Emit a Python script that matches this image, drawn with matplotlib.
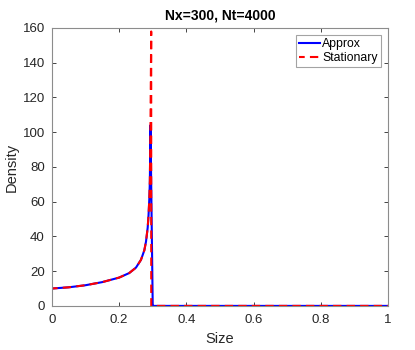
import matplotlib
matplotlib.use("Agg")
import matplotlib.pyplot as plt
import numpy as np

plt.rcParams['font.family'] = ['Liberation Sans', 'DejaVu Sans']

# Data
size_approx = [0.0, 0.05, 0.10, 0.15, 0.20, 0.23, 0.25, 0.265, 0.275, 0.28, 0.285,
               0.2875, 0.29, 0.2915, 0.2933, 0.30, 0.3033, 1.0]
dens_approx = [10.0, 10.7, 11.9, 13.7, 16.3, 18.9, 22.0, 26.5, 32.0, 37.0, 45.0,
               52.0, 62.0, 72.0, 104.0, 0.0, 0.0, 0.0]

size_stat = [0.0, 0.05, 0.10, 0.15, 0.20, 0.23, 0.25, 0.265, 0.275, 0.28, 0.285,
             0.2875, 0.29, 0.2915, 0.2933, 0.2955, 0.2956, 1.0]
dens_stat = [10.0, 10.7, 11.9, 13.7, 16.3, 18.9, 22.0, 26.5, 32.0, 37.0, 45.0,
             52.0, 62.0, 72.0, 104.0, 158.0, 0.0, 0.0]

title = "Nx=300, Nt=4000"
xlabel = "Size"
ylabel = "Density"
xticks = [0, 0.2, 0.4, 0.6, 0.8, 1]
xticklabels = ["0", "0.2", "0.4", "0.6", "0.8", "1"]
yticks = [0, 20, 40, 60, 80, 100, 120, 140, 160]

fig = plt.figure(figsize=(4.15, 3.5), dpi=100)
ax = fig.add_axes([0.125, 0.126, 0.81, 0.794])
ax.set_xlim(0, 1)
ax.set_ylim(0, 160)

lw = 1.5
dash = (4, 2.5)
# align the dash pattern so the up and down strokes of the spike coincide
pts = ax.transData.transform(np.column_stack([size_stat, dens_stat]))
seg = np.hypot(*np.diff(pts, axis=0).T)
peak = int(np.argmax(dens_stat))
L = seg[:peak].sum() * 72.0 / fig.dpi
on, per = dash[0] * lw, (dash[0] + dash[1]) * lw
offset = ((on / 2.0 - L) % per) / lw

ax.plot(size_approx, dens_approx, color='#0000ff', lw=lw, label='Approx')
ax.plot(size_stat, dens_stat, color='#ff0000', lw=lw, ls=(offset, dash), label='Stationary')

ax.set_xticks(xticks)
ax.set_xticklabels(xticklabels)
ax.set_yticks(yticks)

tc = '#262626'
ax.tick_params(direction='in', top=True, right=True, length=3, width=0.6,
               colors=tc, labelsize=9.5, labelcolor=tc)
ax.tick_params(axis='x', pad=6)
ax.tick_params(axis='y', pad=5)
for s in ax.spines.values():
    s.set_color('#8c8c8c')
    s.set_linewidth(0.8)

ax.set_xlabel(xlabel, fontsize=10.5, color=tc, labelpad=4)
ax.set_ylabel(ylabel, fontsize=10.5, color=tc, labelpad=3)
ax.set_title(title, fontsize=10, fontweight='bold', color='black', pad=6)

leg = ax.legend(loc='upper right', fontsize=8.8, frameon=True, fancybox=False,
                handlelength=1.7, handletextpad=0.2, borderpad=0.25,
                labelspacing=0.15, borderaxespad=0.6)
leg.get_frame().set_edgecolor('#8c8c8c')
leg.get_frame().set_linewidth(0.8)

fig.savefig('out.png', dpi=100)
